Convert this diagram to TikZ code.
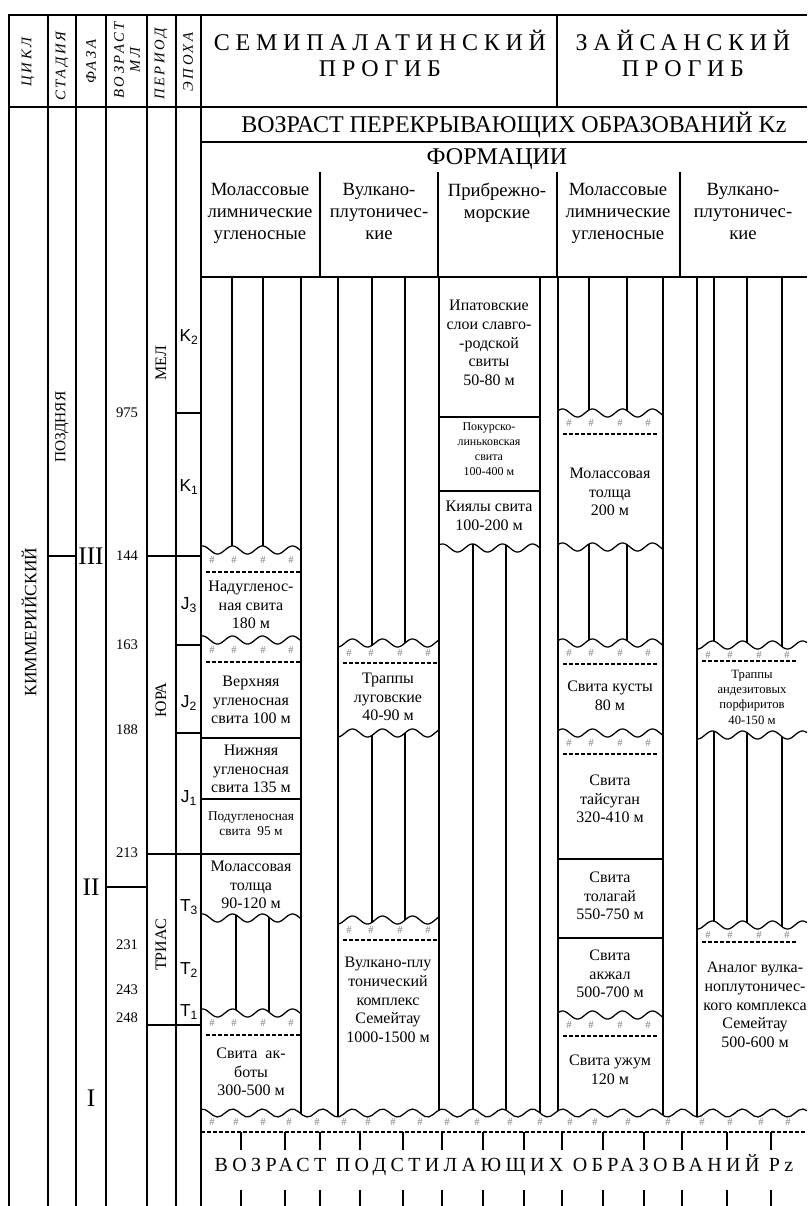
\documentclass[tikz,border=0pt]{standalone}
\usepackage{fontspec}
\setmainfont{Liberation Serif}
\setsansfont{Liberation Sans}
\usepackage{tikz}

\begin{document}
\begin{tikzpicture}[x=0.75pt,y=-0.75pt,
    declare function={wv(\t)=4*sin(12*\t);},
    hash/.style={font=\fontsize{8}{8}\selectfont,text=black!50,inner sep=0pt}]
\useasboundingbox (0,0) rectangle (807,1206);
\clip (0,0) rectangle (807,1206);

\draw[line width=1.9pt] (9,1206) -- (9,15) -- (807,15);
\draw[line width=1.5pt] (9,107) -- (807,107);

\begin{scope}[line width=1pt]
    \foreach \x in {48,76,106,147,176,201}
        \draw (\x,15) -- (\x,1206);
    \draw (557,15) -- (557,107);
    \draw (201,142) -- (807,142);
    \foreach \x in {320,438,557,680}
        \draw (\x,172) -- (\x,277);
    \draw (201,277) -- (807,277);
    \draw (48,556) -- (76,556);
    \draw (147,556) -- (201,556);
    \foreach \y in {413,645,733}
        \draw (176,\y) -- (201,\y);
    \draw (147,854) -- (301,854);
    \draw (106,887) -- (147,887);
    \draw (147,1025) -- (201,1025);
\end{scope}

\begin{scope}[line width=0.95pt]
    \foreach \x in {301,338,439,540,558,663,697}
        \draw (\x,277) -- (\x,{1113+wv(\x)});
    \foreach \x/\a/\b in {232/277/550, 263/277/550, 236/918/1013, 269/918/1013,
                          372/277/643, 405/277/643, 372/733/920, 405/733/920,
                          473/548/1113, 506/548/1113,
                          589/277/413, 627/277/413, 589/547/643, 627/547/643,
                          714/277/645, 747/277/645, 782/277/645,
                          714/735/925, 747/735/925, 782/735/925}
        \draw (\x,{\a+(\a>300)*wv(\x)}) -- (\x,{\b+wv(\x)});
    \foreach \a/\b/\y in {201/301/550, 201/301/640, 201/301/918, 201/301/1013,
                          338/439/643, 338/439/733, 338/439/920, 439/540/548,
                          558/663/413, 558/663/547, 558/663/643, 558/663/733,
                          558/663/1015, 697/807/645, 697/807/735, 697/807/925,
                          201/807/1113}
        \draw plot[domain=\a:\b,samples=150] (\x,{\y+wv(\x)});
    \draw (201,738) -- (301,738);
    \draw (201,799) -- (301,799);
    \draw (439,417) -- (540,417);
    \draw (439,491) -- (540,491);
    \draw (558,859) -- (663,859);
    \draw (558,938) -- (663,938);
\end{scope}

\begin{scope}[line width=0.8pt,dash pattern=on 3pt off 1.5pt]
    \foreach \a/\y/\s in {201/550/22, 201/640/22, 201/1013/22, 338/643/20, 338/920/20,
                          558/413/21, 558/643/21, 558/733/21, 558/1015/21,
                          697/645/16, 697/925/17}{
        \foreach \d in {11,33,62,90}
            \node[hash] (h\a-\y-\d) at (\a+\d,\y+10) {\#};
        \draw (\a+5,\y+\s) -- (\a+99,\y+\s);
    }
    \foreach \x in {212,236,263,289,317,344,368,393,420,447,477,510,540,570,
                    595,628,668,702,730,761,788}
        \node[hash] (b\x) at (\x,1122) {\#};
    \draw (201,1132) -- (807,1132);
\end{scope}

\begin{scope}[line width=0.95pt]
    \foreach \x in {241,285,320,360,403,442,483,524,562,603,644,682,727,771}{
        \draw (\x,1132) -- (\x,1150);
        \draw (\x,1190) -- (\x,1206);
    }
\end{scope}

\begin{scope}[every node/.style={rotate=90,inner sep=0pt,align=center,
        font=\fontsize{11}{12}\selectfont\itshape\addfontfeature{LetterSpace=18}}]
    \node (cikl) at (28,62) {ЦИКЛ};
    \node (stadia) at (62,66) {СТАДИЯ};
    \node (faza) at (91,62) {ФАЗА};
    \node (vozrast) at (127,60) {ВОЗРАСТ\\МЛ};
    \node (period) at (161,64) {ПЕРИОД};
    \node (epoha) at (188,62) {ЭПОХА};
\end{scope}

\begin{scope}[every node/.style={rotate=90,inner sep=0pt,font=\fontsize{12}{14}\selectfont}]
    \node[font=\fontsize{13}{14}\selectfont] (kimm) at (29,622) {КИММЕРИЙСКИЙ};
    \node[font=\fontsize{11.5}{14}\selectfont] (pozd) at (62,427) {ПОЗДНЯЯ};
    \node (mel) at (161,363) {МЕЛ};
    \node (yura) at (161,700) {ЮРА};
    \node (trias) at (161,945) {ТРИАС};
\end{scope}

\begin{scope}[every node/.style={inner sep=0pt,font=\fontsize{19}{20}\selectfont}]
    \node (ph3) at (91,556) {III};
    \node (ph2) at (91,887) {II};
    \node (ph1) at (91,1098) {I};
\end{scope}

\begin{scope}[every node/.style={inner sep=0pt,font=\fontsize{11}{12}\selectfont}]
    \node (a975) at (127,413) {975};
    \node (a144) at (127,556) {144};
    \node (a163) at (127,645) {163};
    \node (a188) at (127,730) {188};
    \node (a213) at (127,853) {213};
    \node (a231) at (127,945) {231};
    \node (a243) at (127,990) {243};
    \node (a248) at (127,1018) {248};
\end{scope}

\begin{scope}[every node/.style={inner sep=0pt,font=\fontsize{13}{13}\sffamily}]
    \node (k2) at (189,337) {K\textsubscript{2}};
    \node (k1) at (189,487) {K\textsubscript{1}};
    \node (j3) at (189,605) {J\textsubscript{3}};
    \node (j2) at (189,703) {J\textsubscript{2}};
    \node (j1) at (189,798) {J\textsubscript{1}};
    \node (t3) at (189,907) {T\textsubscript{3}};
    \node (t2) at (189,970) {T\textsubscript{2}};
    \node (t1) at (189,1012) {T\textsubscript{1}};
\end{scope}

\begin{scope}[every node/.style={inner sep=0pt,align=center,
        font=\fontsize{18}{19.5}\selectfont\addfontfeature{LetterSpace=24}}]
    \node (semip) at (380,53) {СЕМИПАЛАТИНСКИЙ\\ПРОГИБ};
    \node (zaisan) at (683,53) {ЗАЙСАНСКИЙ\\ПРОГИБ};
\end{scope}

\begin{scope}[every node/.style={inner sep=0pt,font=\fontsize{18}{20}\selectfont}]
    \node (kz) at (514,125) {ВОЗРАСТ ПЕРЕКРЫВАЮЩИХ ОБРАЗОВАНИЙ Kz};
    \node (formacii) at (497,159) {ФОРМАЦИИ};
\end{scope}

\begin{scope}[every node/.style={inner sep=0pt,align=center,anchor=north,
        font=\fontsize{14}{16.5}\selectfont}]
    \node (fA) at (260,183) {Молассовые\\лимнические\\угленосные};
    \node (fB) at (379,183) {Вулкано-\\плутоничес-\\кие};
    \node (fC) at (497,183) {Прибрежно-\\морские};
    \node (fD) at (618,183) {Молассовые\\лимнические\\угленосные};
    \node (fE) at (743,183) {Вулкано-\\плутоничес-\\кие};
\end{scope}

\begin{scope}[every node/.style={inner sep=0pt,align=center,
        font=\fontsize{12}{14}\selectfont}]
    \node (nadugl) at (251,605) {Надугленос-\\ная свита\\180 м};
    \node (verkh) at (251,700) {Верхняя\\угленосная\\свита 100 м};
    \node (nizh) at (251,769) {Нижняя\\угленосная\\свита 135 м};
    \node[font=\fontsize{10}{11.3}\selectfont] (podugl) at (251,824) {Подугленосная\\свита~ 95 м};
    \node (molA) at (251,885) {Молассовая\\толща\\90-120 м};
    \node (akboty) at (251,1072) {Свита~ ак-\\боты\\300-500 м};
    \node (trapL) at (388,697) {Траппы\\луговские\\40-90 м};
    \node (semB) at (388,1000) {Вулкано-плу\\тонический\\комплекс\\Семейтау\\1000-1500 м};
    \node (ipat) at (489,343) {Ипатовские\\слои славго-\\-родской\\свиты\\50-80 м};
    \node[font=\fontsize{9}{11.3}\selectfont] (pokur) at (489,449) {Покурско-\\линьковская\\свита\\100-400 м};
    \node (kiyaly) at (489,516) {Киялы свита\\100-200 м};
    \node (molD) at (610,492) {Молассовая\\толща\\200 м};
    \node (kusty) at (610,696) {Свита кусты\\80 м};
    \node (taisug) at (610,799) {Свита\\тайсуган\\320-410 м};
    \node (tolagai) at (610,896) {Свита\\толагай\\550-750 м};
    \node (akzhal) at (610,974) {Свита\\акжал\\500-700 м};
    \node (uzhum) at (610,1070) {Свита ужум\\120 м};
    \node[font=\fontsize{9.5}{11.5}\selectfont] (trapA) at (752,697) {Траппы\\андезитовых\\порфиритов\\40-150 м};
    \node (analog) at (755,1005) {Аналог вулка-\\ноплутоничес-\\кого комплекса\\Семейтау\\500-600 м};
\end{scope}

\node[inner sep=0pt,font=\fontsize{15}{16}\selectfont\addfontfeature{LetterSpace=22}]
    (pz) at (504,1165) {ВОЗРАСТ ПОДСТИЛАЮЩИХ ОБРАЗОВАНИЙ Pz};
\end{tikzpicture}
\end{document}
